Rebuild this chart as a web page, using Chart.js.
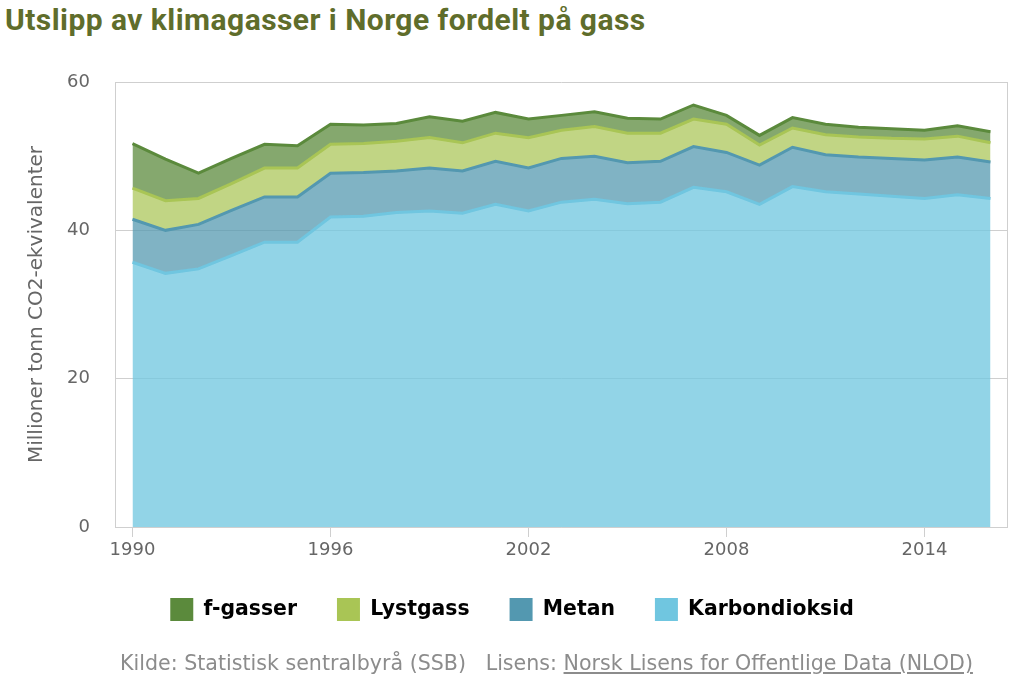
<!DOCTYPE html>
<html lang="no">
<head>
<meta charset="utf-8">
<title>Utslipp av klimagasser i Norge fordelt på gass</title>
<script src="https://cdn.jsdelivr.net/npm/chart.js@4.4.3/dist/chart.umd.min.js"></script>
<style>
    html, body { margin: 0; padding: 0; background: #fff; }
    body { width: 1024px; height: 683px; position: relative; overflow: hidden; }
    #title {
        position: absolute; left: 5px; top: 2px; margin: 0;
        font-family: Roboto, sans-serif; font-weight: 700; font-size: 30px;
        color: #5f6d2b; letter-spacing: 0.45px; white-space: nowrap;
    }
    #chart-wrap { position: absolute; left: 0; top: 0; width: 1024px; height: 683px; }
    #source {
        position: absolute; left: 120px; top: 651px;
        font-family: "DejaVu Sans", sans-serif; font-size: 20.6px; color: #8c8c8c;
        white-space: nowrap;
    }
    #source a { color: #8c8c8c; text-decoration: underline; }
</style>
</head>
<body>
<h1 id="title">Utslipp av klimagasser i Norge fordelt på gass</h1>
<div id="chart-wrap"><canvas id="chart" width="1024" height="683"></canvas></div>
<div id="source">Kilde: Statistisk sentralbyrå (SSB) &nbsp;&nbsp;Lisens: <a>Norsk Lisens for Offentlige Data (NLOD)</a></div>

<script>
// years 1990-2016
const years = [1990, 1991, 1992, 1993, 1994, 1995, 1996, 1997, 1998, 1999,
    2000, 2001, 2002, 2003, 2004, 2005, 2006, 2007, 2008, 2009,
    2010, 2011, 2012, 2013, 2014, 2015, 2016];

// million tonnes CO2-equivalents, per gas (stacked)
const karbondioksid = [35.7, 34.2, 34.8, 36.6, 38.4, 38.4, 41.8, 41.9, 42.4, 42.6,
    42.3, 43.5, 42.6, 43.8, 44.2, 43.6, 43.8, 45.8, 45.2, 43.5,
    45.9, 45.2, 44.9, 44.6, 44.3, 44.8, 44.3];
const metan = [5.8, 5.8, 6.0, 6.1, 6.1, 6.1, 5.9, 5.9, 5.6, 5.8,
    5.7, 5.8, 5.8, 5.9, 5.8, 5.5, 5.5, 5.5, 5.3, 5.3,
    5.3, 5.0, 5.0, 5.1, 5.2, 5.1, 4.9];
const lystgass = [4.2, 4.0, 3.5, 3.6, 3.9, 3.9, 3.9, 3.9, 4.0, 4.1,
    3.8, 3.8, 4.1, 3.8, 4.0, 4.0, 3.8, 3.7, 3.8, 2.7,
    2.6, 2.7, 2.7, 2.7, 2.8, 2.8, 2.6];
const fgasser = [6.0, 5.6, 3.4, 3.4, 3.2, 3.0, 2.7, 2.5, 2.4, 2.8,
    2.9, 2.8, 2.5, 2.0, 2.0, 2.0, 1.9, 1.9, 1.2, 1.3,
    1.4, 1.4, 1.3, 1.3, 1.2, 1.4, 1.5];

const xTicks = [1990, 1996, 2002, 2008, 2014];
const yTicks = [0, 20, 40, 60];

const GRID = '#cfcfcf';
const TEXT = '#666';

function series(label, values, line, fill, fillMode) {
    return {
        label: label,
        data: years.map((yr, i) => ({ x: yr, y: values[i] })),
        borderColor: line,
        backgroundColor: fill,
        borderWidth: 3,
        pointRadius: 0,
        pointHoverRadius: 0,
        tension: 0,
        fill: fillMode
    };
}

// right edge of the plot box
const frameRight = {
    id: 'frameRight',
    beforeDatasetsDraw(chart) {
        const { ctx, chartArea } = chart;
        ctx.save();
        ctx.strokeStyle = GRID;
        ctx.lineWidth = 1;
        ctx.beginPath();
        ctx.moveTo(chartArea.right + 0.5, chartArea.top);
        ctx.lineTo(chartArea.right + 0.5, chartArea.bottom);
        ctx.stroke();
        ctx.restore();
    }
};

new Chart(document.getElementById('chart'), {
    type: 'line',
    data: {
        datasets: [
            series('Karbondioksid', karbondioksid, '#70c6e0', 'rgba(112,198,224,0.76)', 'origin'),
            series('Metan', metan, '#5398b0', 'rgba(83,152,176,0.74)', '-1'),
            series('Lystgass', lystgass, '#a9c555', 'rgba(169,197,85,0.72)', '-1'),
            series('f-gasser', fgasser, '#5b8a3c', 'rgba(91,138,60,0.74)', '-1')
        ]
    },
    options: {
        responsive: false,
        animation: false,
        layout: { padding: { left: 17, right: 17, top: 82, bottom: 52 } },
        scales: {
            x: {
                type: 'linear',
                min: 1989.47,
                max: 2016.5,
                afterBuildTicks: (axis) => { axis.ticks = xTicks.map(v => ({ value: v })); },
                afterFit: (axis) => { axis.height = 31; },
                grid: { drawOnChartArea: false, drawTicks: true, tickLength: 10, color: GRID },
                border: { display: true, color: GRID },
                ticks: {
                    color: TEXT,
                    padding: 3,
                    maxRotation: 0,
                    font: { family: 'DejaVu Sans', size: 18 },
                    callback: (v) => String(v)
                }
            },
            y: {
                stacked: true,
                min: 0,
                max: 60,
                afterBuildTicks: (axis) => { axis.ticks = yTicks.map(v => ({ value: v })); },
                afterFit: (axis) => { axis.width = 98; },
                grid: { color: GRID, drawTicks: false },
                border: { display: true, color: GRID },
                ticks: {
                    color: TEXT,
                    padding: 25,
                    font: { family: 'DejaVu Sans', size: 18 }
                },
                title: {
                    display: true,
                    text: 'Millioner tonn CO2-ekvivalenter',
                    color: TEXT,
                    padding: { top: 8, bottom: 0 },
                    font: { family: 'DejaVu Sans', size: 20 }
                }
            }
        },
        plugins: {
            legend: {
                position: 'bottom',
                reverse: true,
                labels: {
                    boxWidth: 23,
                    boxHeight: 23,
                    padding: 40,
                    color: '#333',
                    font: { family: 'DejaVu Sans', size: 20.4, weight: 'bold' },
                    generateLabels: (chart) => chart.data.datasets.map((ds, i) => ({
                        text: ds.label,
                        fillStyle: ds.borderColor,
                        strokeStyle: ds.borderColor,
                        lineWidth: 0,
                        hidden: false,
                        datasetIndex: i
                    }))
                }
            },
            tooltip: { enabled: false }
        }
    },
    plugins: [frameRight]
});
</script>
</body>
</html>
